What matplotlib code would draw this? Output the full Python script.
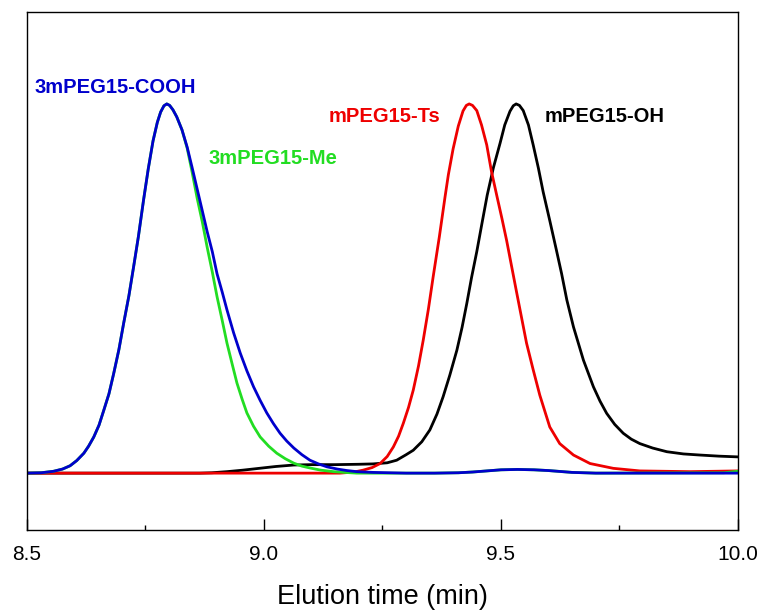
import numpy as np
import matplotlib
matplotlib.use("Agg")
import matplotlib.pyplot as plt
from matplotlib.ticker import MultipleLocator

plt.rcParams['font.family'] = ['Liberation Sans', 'DejaVu Sans']

# 3mPEG15-COOH (blue)
x_cooh = [8.50, 8.53, 8.556, 8.575, 8.591, 8.605, 8.620, 8.630, 8.641, 8.652, 8.662, 8.673,
          8.683, 8.694, 8.704, 8.715, 8.725, 8.735, 8.746, 8.756, 8.766, 8.775, 8.782, 8.789,
          8.795, 8.801, 8.808, 8.816, 8.827, 8.838, 8.848, 8.859, 8.870, 8.880, 8.891, 8.901,
          8.912, 8.922, 8.936, 8.950, 8.964, 8.978, 8.992, 9.006, 9.020, 9.034, 9.048, 9.063,
          9.080, 9.097, 9.115, 9.133, 9.155, 9.175, 9.196, 9.23, 9.30, 9.36, 9.41, 9.44, 9.47,
          9.50, 9.535, 9.57, 9.60, 9.63, 9.65, 9.70, 10.0]
y_cooh = [0.0, 0.001, 0.005, 0.011, 0.02, 0.034, 0.054, 0.073, 0.098, 0.13, 0.17, 0.215,
          0.27, 0.335, 0.406, 0.48, 0.559, 0.64, 0.74, 0.825, 0.90, 0.95, 0.978, 0.995,
          1.0, 0.996, 0.984, 0.965, 0.93, 0.883, 0.83, 0.77, 0.71, 0.655, 0.60, 0.54,
          0.49, 0.442, 0.38, 0.325, 0.277, 0.234, 0.197, 0.163, 0.134, 0.108, 0.087, 0.068,
          0.05, 0.035, 0.025, 0.017, 0.011, 0.007, 0.004, 0.002, 0.0, 0.0, 0.001, 0.003,
          0.006, 0.009, 0.010, 0.009, 0.007, 0.004, 0.002, 0.0, 0.0]

# 3mPEG15-Me (green)
x_me = [8.50, 8.53, 8.556, 8.575, 8.591, 8.605, 8.620, 8.630, 8.641, 8.652, 8.662, 8.673,
        8.683, 8.694, 8.704, 8.715, 8.725, 8.735, 8.746, 8.756, 8.766, 8.775, 8.782, 8.789,
        8.795, 8.801, 8.808, 8.816, 8.827, 8.838, 8.848, 8.859, 8.870, 8.880, 8.891, 8.901,
        8.912, 8.922, 8.933, 8.943, 8.954, 8.964, 8.978, 8.992, 9.010, 9.027, 9.045, 9.063,
        9.080, 9.097, 9.120, 9.147, 9.17, 9.196, 9.30, 9.36, 9.41, 9.44, 9.47, 9.50, 9.535,
        9.57, 9.60, 9.63, 9.65, 9.70, 9.97, 10.0]
y_me = [0.0, 0.001, 0.005, 0.011, 0.02, 0.034, 0.054, 0.073, 0.098, 0.13, 0.17, 0.215,
        0.27, 0.335, 0.406, 0.48, 0.559, 0.64, 0.74, 0.825, 0.90, 0.95, 0.978, 0.995,
        1.0, 0.996, 0.984, 0.965, 0.93, 0.88, 0.818, 0.745, 0.68, 0.613, 0.545, 0.478,
        0.413, 0.352, 0.295, 0.244, 0.20, 0.163, 0.127, 0.098, 0.073, 0.054, 0.039, 0.027,
        0.019, 0.014, 0.008, 0.004, 0.002, 0.0, 0.0, 0.0, 0.001, 0.003, 0.006, 0.009, 0.010,
        0.009, 0.007, 0.004, 0.002, 0.0, 0.001, 0.005]

# mPEG15-Ts (red)
x_ts = [8.50, 9.16, 9.19, 9.209, 9.228, 9.245, 9.26, 9.273, 9.284, 9.294, 9.305, 9.315,
        9.326, 9.336, 9.347, 9.357, 9.370, 9.382, 9.389, 9.399, 9.410, 9.420, 9.427, 9.433,
        9.440, 9.449, 9.459, 9.470, 9.480, 9.491, 9.502, 9.512, 9.533, 9.554, 9.568, 9.582,
        9.603, 9.624, 9.653, 9.688, 9.737, 9.793, 9.899, 10.0]
y_ts = [0.0, 0.0, 0.003, 0.008, 0.015, 0.026, 0.045, 0.071, 0.10, 0.135, 0.178, 0.225,
        0.29, 0.36, 0.445, 0.532, 0.64, 0.748, 0.808, 0.878, 0.94, 0.981, 0.996, 1.0,
        0.996, 0.982, 0.943, 0.889, 0.817, 0.753, 0.69, 0.63, 0.49, 0.352, 0.28, 0.211,
        0.125, 0.08, 0.049, 0.026, 0.013, 0.006, 0.004, 0.006]

# mPEG15-OH (black)
x_oh = [8.50, 8.865, 8.89, 8.922, 8.955, 8.99, 9.025, 9.063, 9.10, 9.15, 9.20, 9.23, 9.26,
        9.28, 9.30, 9.315, 9.333, 9.35, 9.365, 9.378, 9.392, 9.407, 9.418, 9.428, 9.438,
        9.449, 9.460, 9.471, 9.484, 9.498, 9.508, 9.519, 9.526, 9.532, 9.539, 9.547, 9.558,
        9.568, 9.579, 9.589, 9.603, 9.617, 9.628, 9.639, 9.653, 9.674, 9.695, 9.709, 9.723,
        9.740, 9.758, 9.775, 9.793, 9.82, 9.850, 9.885, 9.920, 9.96, 10.0]
y_oh = [0.0, 0.0, 0.001, 0.004, 0.008, 0.013, 0.018, 0.022, 0.023, 0.023, 0.024, 0.025,
        0.028, 0.035, 0.05, 0.062, 0.085, 0.117, 0.16, 0.207, 0.265, 0.333, 0.395, 0.46,
        0.53, 0.60, 0.677, 0.753, 0.827, 0.893, 0.943, 0.98, 0.995, 1.0, 0.996, 0.982,
        0.943, 0.889, 0.826, 0.762, 0.684, 0.604, 0.54, 0.469, 0.396, 0.306, 0.234, 0.195,
        0.162, 0.132, 0.108, 0.092, 0.08, 0.068, 0.058, 0.052, 0.049, 0.046, 0.044]

labels = ["3mPEG15-COOH", "3mPEG15-Me", "mPEG15-Ts", "mPEG15-OH"]

fig = plt.figure(figsize=(7.64, 6.12), dpi=100)
ax = fig.add_axes([0.0353, 0.134, 0.9306, 0.8464])

ax.plot(x_oh, y_oh, color="black", lw=2)
ax.plot(x_ts, y_ts, color="#ee0000", lw=2)
ax.plot(x_me, y_me, color="#22dd22", lw=2)
ax.plot(x_cooh, y_cooh, color="#0000cc", lw=2)

# peak labels
ax.text(8.686, 1.045, labels[0], color="#0000cc", fontsize=14.5, fontweight="bold",
        ha="center", va="center")
ax.text(9.019, 0.851, labels[1], color="#22dd22", fontsize=14.5, fontweight="bold",
        ha="center", va="center")
ax.text(9.255, 0.967, labels[2], color="#ee0000", fontsize=14.5, fontweight="bold",
        ha="center", va="center")
ax.text(9.719, 0.967, labels[3], color="black", fontsize=14.5, fontweight="bold",
        ha="center", va="center")

ax.set_xlim(8.5, 10.0)
ax.set_ylim(-0.154, 1.249)
ax.xaxis.set_minor_locator(MultipleLocator(0.25))
ax.set_xticks([8.5, 9.0, 9.5, 10.0])
ax.set_xticklabels(["8.5", "9.0", "9.5", "10.0"])
ax.set_yticks([])
ax.tick_params(axis="x", which="major", direction="in", length=8, width=1, labelsize=15, pad=11)
ax.tick_params(axis="x", which="minor", direction="in", length=3.5, width=1)
for s in ax.spines.values():
    s.set_linewidth(1.0)
ax.set_xlabel("Elution time (min)", fontsize=19.5, labelpad=14)

fig.savefig("out.png", dpi=100)
